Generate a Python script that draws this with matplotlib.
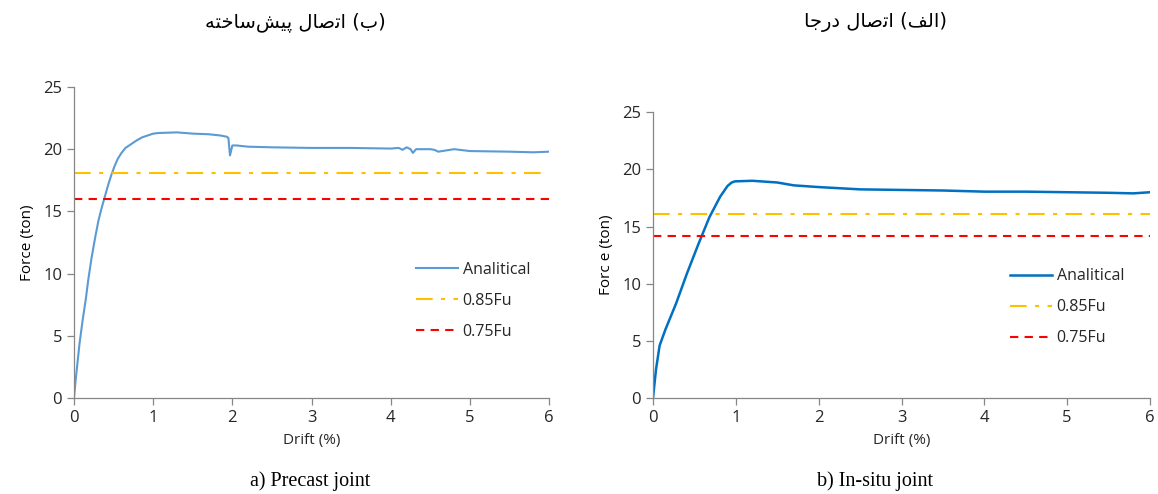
import matplotlib
matplotlib.use('Agg')
import matplotlib.pyplot as plt

# Precast joint (left panel)
drift_pre = [0, 0.02, 0.04, 0.07, 0.11, 0.15, 0.18, 0.22, 0.27, 0.31, 0.35, 0.39,
             0.43, 0.47, 0.51, 0.55, 0.6, 0.65, 0.72, 0.79, 0.86, 0.93,
             1.0, 1.07, 1.3, 1.5, 1.7, 1.85, 1.93, 1.95, 1.97, 2.0, 2.05, 2.2, 2.5,
             3.0, 3.5, 4.0, 4.1, 4.15, 4.2, 4.25, 4.28, 4.32, 4.5, 4.55, 4.6,
             4.7, 4.8, 5.0, 5.5, 5.8, 6.0]
force_pre = [0, 1.4, 2.6, 4.4, 6.3, 8.0, 9.5, 11.2, 13.0, 14.3, 15.3, 16.2,
             17.1, 17.9, 18.6, 19.2, 19.7, 20.1, 20.4, 20.7, 20.95, 21.1,
             21.25, 21.3, 21.35, 21.25, 21.2, 21.1, 21.0, 20.9, 19.5, 20.3, 20.3, 20.2, 20.15,
             20.1, 20.1, 20.05, 20.1, 19.95, 20.15, 20.0, 19.7, 20.0, 20.0, 19.95, 19.8,
             19.9, 20.0, 19.85, 19.8, 19.75, 19.8]
fu_pre = [18.1, 16.0]  # 0.85Fu, 0.75Fu

# In-situ joint (right panel)
drift_ins = [0, 0.036, 0.08, 0.15, 0.28, 0.41, 0.55, 0.68, 0.81, 0.9, 0.95, 0.99, 1.2,
             1.5, 1.7, 2.0, 2.5, 3.0, 3.5, 4.0, 4.5, 5.0, 5.5, 5.8, 6.0]
force_ins = [0, 2.5, 4.6, 6.0, 8.3, 10.9, 13.5, 15.8, 17.6, 18.55, 18.85, 18.95, 19.0,
             18.85, 18.6, 18.45, 18.25, 18.2, 18.15, 18.05, 18.05, 18.0, 17.95, 17.9, 18.0]
fu_ins = [16.1, 14.2]

x_ticks = [0, 1, 2, 3, 4, 5, 6]
y_ticks = [0, 5, 10, 15, 20, 25]

# Persian titles, pre-shaped presentation forms in visual (left-to-right) order
ETESAL = '\uFEDD\uFE8E\uFEBB\uFE97\uFE8D'
TITLE_PRE = '\uFEEA\uFE98\uFEA7\uFE8E\uFEB3' + '\uFEB6\uFBFF\uFB58' + ' ' + ETESAL + ' (\uFE8F)'
TITLE_INS = '\uFE8E\uFE9F\uFEAD\uFEA9' + ' ' + ETESAL + ' (\uFED2\uFEDF\uFE8D)'

FONT = 'Open Sans'
TXT = '#262626'
AX_C = '#868686'
YELLOW = '#FFC000'
RED = '#FF0000'

plt.rcParams.update({'font.family': FONT, 'text.color': TXT})

fig = plt.figure(figsize=(11.58, 4.94), dpi=100)
ax1 = fig.add_axes([0.0639, 0.194, 0.4103, 0.630])
ax2 = fig.add_axes([0.5639, 0.194, 0.4292, 0.579])


def style(ax, ylabel):
    ax.set_xlim(0, 6)
    ax.set_ylim(0, 25)
    ax.set_xticks(x_ticks)
    ax.set_yticks(y_ticks)
    for s in ['top', 'right']:
        ax.spines[s].set_visible(False)
    for s in ['left', 'bottom']:
        ax.spines[s].set_color(AX_C)
        ax.spines[s].set_linewidth(0.9)
    ax.tick_params(direction='out', length=5, width=0.9, color=AX_C,
                   labelsize=12, labelcolor=TXT)
    ax.set_xlabel('Drift (%)', fontsize=11, color=TXT, labelpad=5)
    ax.set_ylabel(ylabel, fontsize=11, color='black', labelpad=6)


ax1.plot(drift_pre, force_pre, color='#5B9BD5', lw=1.5, label='Analitical')
ax1.axhline(fu_pre[0], color=YELLOW, lw=1.5, ls=(0, (8, 4, 2, 4)), label='0.85Fu')
ax1.axhline(fu_pre[1], color=RED, lw=1.5, ls=(0, (4, 3)), label='0.75Fu')
style(ax1, 'Force (ton)')
ax1.legend(loc='upper left', bbox_to_anchor=(0.69, 0.485), frameon=False,
           fontsize=11.5, handlelength=2.6, handletextpad=0.3, labelspacing=0.95)

ax2.plot(drift_ins, force_ins, color='#0070C0', lw=1.8, label='Analitical')
ax2.axhline(fu_ins[0], color=YELLOW, lw=1.5, ls=(0, (8, 4, 2, 4)), label='0.85Fu')
ax2.axhline(fu_ins[1], color=RED, lw=1.5, ls=(0, (4, 3)), label='0.75Fu')
style(ax2, 'Forc e (ton)')
ax2.legend(loc='upper left', bbox_to_anchor=(0.69, 0.505), frameon=False,
           fontsize=11.5, handlelength=2.6, handletextpad=0.3, labelspacing=0.95)

fig.text(295 / 1158, 1 - 22 / 494, TITLE_PRE, family=['DejaVu Sans'], fontsize=14,
         ha='center', va='center', color='black')
fig.text(875 / 1158, 1 - 22 / 494, TITLE_INS, family=['DejaVu Sans'], fontsize=14,
         ha='center', va='center', color='black')

fig.text(310 / 1158, 1 - 481 / 494, 'a) Precast joint', family='Liberation Serif',
         fontsize=14.5, ha='center', va='center', color='black')
fig.text(875 / 1158, 1 - 481 / 494, 'b) In-situ joint', family='Liberation Serif',
         fontsize=14.5, ha='center', va='center', color='black')

fig.savefig('out.png', dpi=100, facecolor='white')
